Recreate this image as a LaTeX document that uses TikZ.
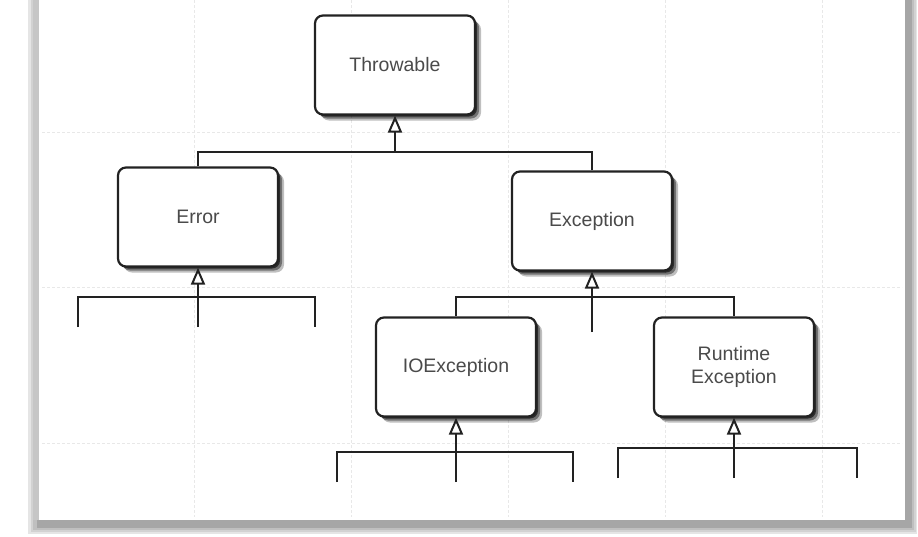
\documentclass[tikz,border=0pt]{standalone}
\usepackage{fontspec}
\setmainfont{Liberation Sans}
\usetikzlibrary{arrows.meta,shadows}
\definecolor{txt}{HTML}{4A4A4A}
\definecolor{ln}{HTML}{222222}
\tikzset{
  cls/.style={draw=ln, line width=2.2pt, rounded corners=8pt, fill=white,
    minimum width=160pt, minimum height=99pt, inner sep=0pt,
    font=\fontsize{19.5}{23}\selectfont, text=txt, align=center,
    drop shadow={shadow xshift=6pt, shadow yshift=-6pt, opacity=0.25, fill=black},
    drop shadow={shadow xshift=4pt, shadow yshift=-4pt, opacity=0.4, fill=black},
    drop shadow={shadow xshift=2pt, shadow yshift=-2pt, opacity=0.6, fill=black}},
  link/.style={draw=ln, line width=2pt},
  inh/.style={link, -{Triangle[open, length=17pt, width=14pt, line width=2pt]}},
  gridl/.style={draw=gray!18, line width=0.8pt, dash pattern=on 3pt off 2pt}
}
\begin{document}
\begin{tikzpicture}[x=1pt, y=-1pt]
\useasboundingbox (0,0) rectangle (918,536);
% panel edges
\fill[gray!20] (28,-5) rectangle (917,534);
\fill[gray!35] (31,-5) rectangle (916,532);
\fill[gray!50] (33,-5) rectangle (914,530);
\fill[gray!70] (37,-5) rectangle (912,528);
\fill[gray!45] (33,-5) rectangle (39,520);
\fill[white] (39,-5) rectangle (905,520);
% faint grid
\foreach \gx in {194,351,508,665,822} \draw[gridl] (\gx,0) -- (\gx,517);
\foreach \gy in {132,287,443} \draw[gridl] (42,\gy) -- (902,\gy);
% classes
\node[cls] (throwable) at (395,65) {Throwable};
\node[cls] (error) at (198,217) {Error};
\node[cls] (exception) at (592,221) {Exception};
\node[cls] (ioexc) at (456,367) {IOException};
\node[cls] (rtexc) at (734,367) {Runtime\\Exception};
% bus to Throwable
\coordinate (b1) at (395,152);
\draw[link] (error.north) |- (b1);
\draw[link] (exception.north) |- (b1);
\draw[inh] (b1) -- (throwable.south);
% Error subclasses
\coordinate (e1) at (78,327);
\coordinate (e2) at (315,327);
\coordinate (e3) at (198,327);
\draw[link] (e1) |- (198,297) -| (e2);
\draw[inh] (e3) -- (error.south);
% Exception subclasses
\coordinate (x3) at (592,332);
\draw[link] (ioexc.north) |- (592,297) -| (rtexc.north);
\draw[inh] (x3) -- (exception.south);
% IOException subclasses
\coordinate (i1) at (337,482);
\coordinate (i2) at (573,482);
\coordinate (i3) at (456,482);
\draw[link] (i1) |- (456,452) -| (i2);
\draw[inh] (i3) -- (ioexc.south);
% RuntimeException subclasses
\coordinate (r1) at (618,478);
\coordinate (r2) at (857,478);
\coordinate (r3) at (734,478);
\draw[link] (r1) |- (734,448) -| (r2);
\draw[inh] (r3) -- (rtexc.south);
\end{tikzpicture}
\end{document}
